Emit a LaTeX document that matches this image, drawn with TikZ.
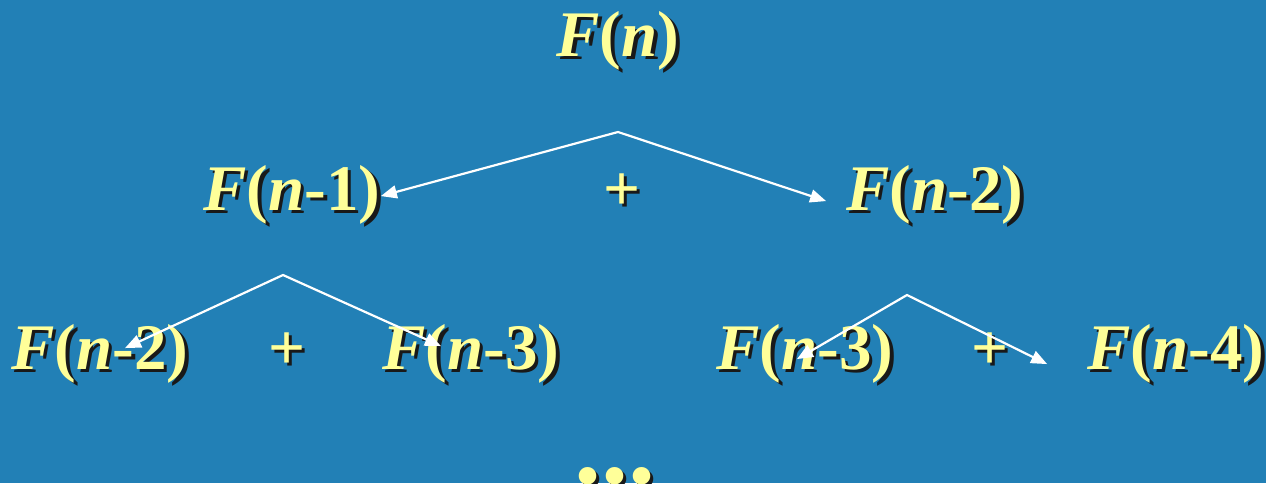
\documentclass[tikz,border=0pt]{standalone}
\usepackage{fontspec}
\setmainfont{Liberation Serif}
\usetikzlibrary{arrows.meta}

\definecolor{hatter}{RGB}{34,128,182}
\definecolor{sarga}{RGB}{255,255,153}
% arnyekos szoveg
\newcommand{\arnyek}[1]{\makebox[0pt][l]{\hspace{1.7pt}\raisebox{-1.7pt}{\color{black!90}#1}}#1}
\newcommand{\Fn}[1]{\arnyek{\textit{F}(\textit{n}#1)}}

\tikzset{
  tag/.style={text=sarga, font=\fontsize{32.5}{38}\selectfont\bfseries, inner sep=0pt, anchor=base},
  nyil/.style={<->, white, line width=1.1pt}
}

\begin{document}
\begin{tikzpicture}[x=0.5pt, y=-0.5pt, >={Triangle[length=8pt,width=6.5pt]}]
    % Hatter
    \fill[hatter] (0,0) rectangle (1266,483);
    \useasboundingbox (0,0) rectangle (1266,483);

    % Gyoker
    \node[tag] (fn) at (618,56) {\Fn{}};

    % Masodik sor
    \node[tag] (fn1) at (292,210) {\Fn{-1}};
    \node[tag] (p1) at (622,210) {\arnyek{+}};
    \node[tag] (fn2) at (935,210) {\Fn{-2}};

    % Harmadik sor
    \node[tag] (a2) at (100,369) {\Fn{-2}};
    \node[tag] (p2) at (287,369) {\arnyek{+}};
    \node[tag] (a3) at (471,369) {\Fn{-3}};
    \node[tag] (b3) at (805,369) {\Fn{-3}};
    \node[tag] (p3) at (990,369) {\arnyek{+}};
    \node[tag] (b4) at (1176,369) {\Fn{-4}};

    % Pontok
    \node[tag, font=\fontsize{54}{60}\selectfont\bfseries] (pontok) at (615,483) {\arnyek{...}};

    % Nyilak
    \coordinate (c0) at (618,132);
    \coordinate (c1) at (283,275);
    \coordinate (c2) at (907,295);
    \draw[nyil] (fn1.east) -- (c0) -- ([shift={(-20,5)}]fn2.west);
    \draw[nyil] ([shift={(25,-7)}]a2.center) -- (c1) -- ([shift={(-30,-9)}]a3.center);
    \draw[nyil] ([shift={(-8,4)}]b3.center) -- (c2) -- ([shift={(-40,9)}]b4.west);
\end{tikzpicture}
\end{document}
